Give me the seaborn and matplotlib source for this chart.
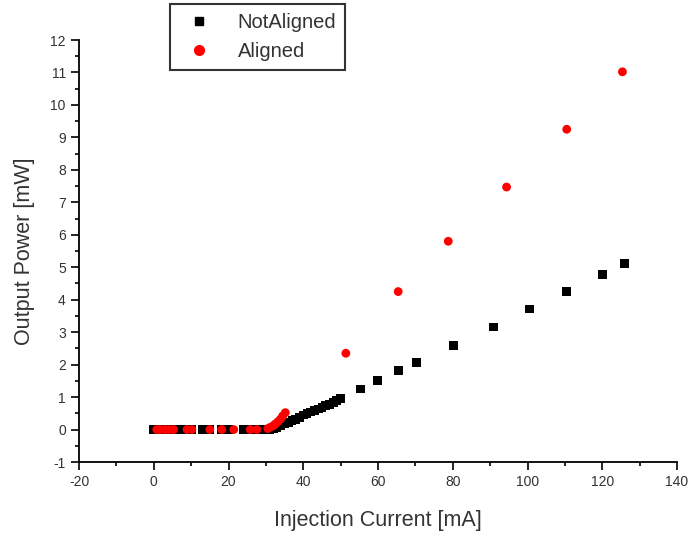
import matplotlib
matplotlib.use("Agg")
import matplotlib.pyplot as plt
import seaborn as sns
import pandas as pd
from matplotlib.ticker import MultipleLocator
from matplotlib.lines import Line2D

# Data
not_aligned_x = [0, 2, 4, 6, 8, 10, 13, 15, 18, 20, 24, 26, 27, 28, 29, 30, 31, 32,
                 33, 34, 35, 36, 37, 38, 39, 40, 41, 42, 43, 44, 45, 46, 47, 48, 49, 50,
                 55.3, 59.8, 65.4, 70.4, 80.2, 90.9, 100.5, 110.5, 120.0, 125.9]
not_aligned_y = [0, 0, 0, 0, 0, 0, 0, 0, 0, 0, 0, 0, 0, 0, 0, 0, 0, 0.03,
                 0.07, 0.12, 0.17, 0.22, 0.27, 0.32, 0.37, 0.45, 0.50, 0.54, 0.58, 0.63, 0.68, 0.73, 0.78, 0.83, 0.89, 0.95,
                 1.25, 1.52, 1.81, 2.06, 2.58, 3.16, 3.71, 4.25, 4.78, 5.11]
aligned_x = [0.8, 1.7, 3.0, 4.0, 5.3, 8.9, 10.2, 15.0, 18.2, 21.4, 25.8, 27.6,
             30.5, 31.2, 32.0, 32.5, 33.2, 33.9, 34.5, 35.2,
             51.4, 65.4, 78.8, 94.4, 110.5, 125.4]
aligned_y = [0, 0, 0, 0, 0, 0, 0, 0, 0, 0, 0, 0,
             0.03, 0.07, 0.12, 0.17, 0.24, 0.32, 0.42, 0.52,
             2.35, 4.25, 5.80, 7.47, 9.25, 11.02]

df = pd.DataFrame({
    "x": not_aligned_x + aligned_x,
    "y": not_aligned_y + aligned_y,
    "series": ["NotAligned"] * len(not_aligned_x) + ["Aligned"] * len(aligned_x),
})

sns.set_style("ticks")
plt.rcParams['font.family'] = ['Liberation Sans', 'DejaVu Sans']
plt.rcParams['axes.unicode_minus'] = False

fig = plt.figure(figsize=(6.89, 5.33), dpi=100)
ax = fig.add_axes([79/689, (533-462)/533, (677-79)/689, (462-40)/533])

sns.scatterplot(data=df, x="x", y="y", hue="series", style="series",
                palette={"NotAligned": "black", "Aligned": "#ff0000"},
                markers={"NotAligned": "s", "Aligned": "o"},
                s=40, linewidth=0, ax=ax, legend=False)

ax.set_xlim(-20, 140)
ax.set_ylim(-1, 12)
ax.xaxis.set_major_locator(MultipleLocator(20))
ax.xaxis.set_minor_locator(MultipleLocator(10))
ax.yaxis.set_major_locator(MultipleLocator(1))
ax.yaxis.set_minor_locator(MultipleLocator(0.5))
for s in ["top", "right"]:
    ax.spines[s].set_visible(False)
for s in ["left", "bottom"]:
    ax.spines[s].set_linewidth(1.3)
    ax.spines[s].set_color("black")
ax.tick_params(which="major", direction="out", length=6, width=1.2, colors="black",
               labelsize=10, labelcolor="#333333")
ax.tick_params(which="minor", direction="out", length=3, width=1.2, colors="black")
ax.set_xlabel("Injection Current [mA]", fontsize=15.5, color="#333333", labelpad=15)
ax.set_ylabel("Output Power [mW]", fontsize=15.5, color="#333333", labelpad=11)

handles = [Line2D([], [], marker="s", color="black", linestyle="none", markersize=6),
           Line2D([], [], marker="o", color="#ff0000", linestyle="none", markersize=7)]
leg = fig.legend(handles, ["NotAligned", "Aligned"], loc="upper left",
                 bbox_to_anchor=(170/689, 1 - 4/533), fontsize=14.5,
                 frameon=True, fancybox=False, edgecolor="black",
                 borderpad=0.45, handletextpad=0.9, labelspacing=0.5,
                 handlelength=2.0, borderaxespad=0)
leg.get_frame().set_linewidth(1.5)
for t in leg.get_texts():
    t.set_color("#333333")

fig.savefig("out.png", dpi=100)
